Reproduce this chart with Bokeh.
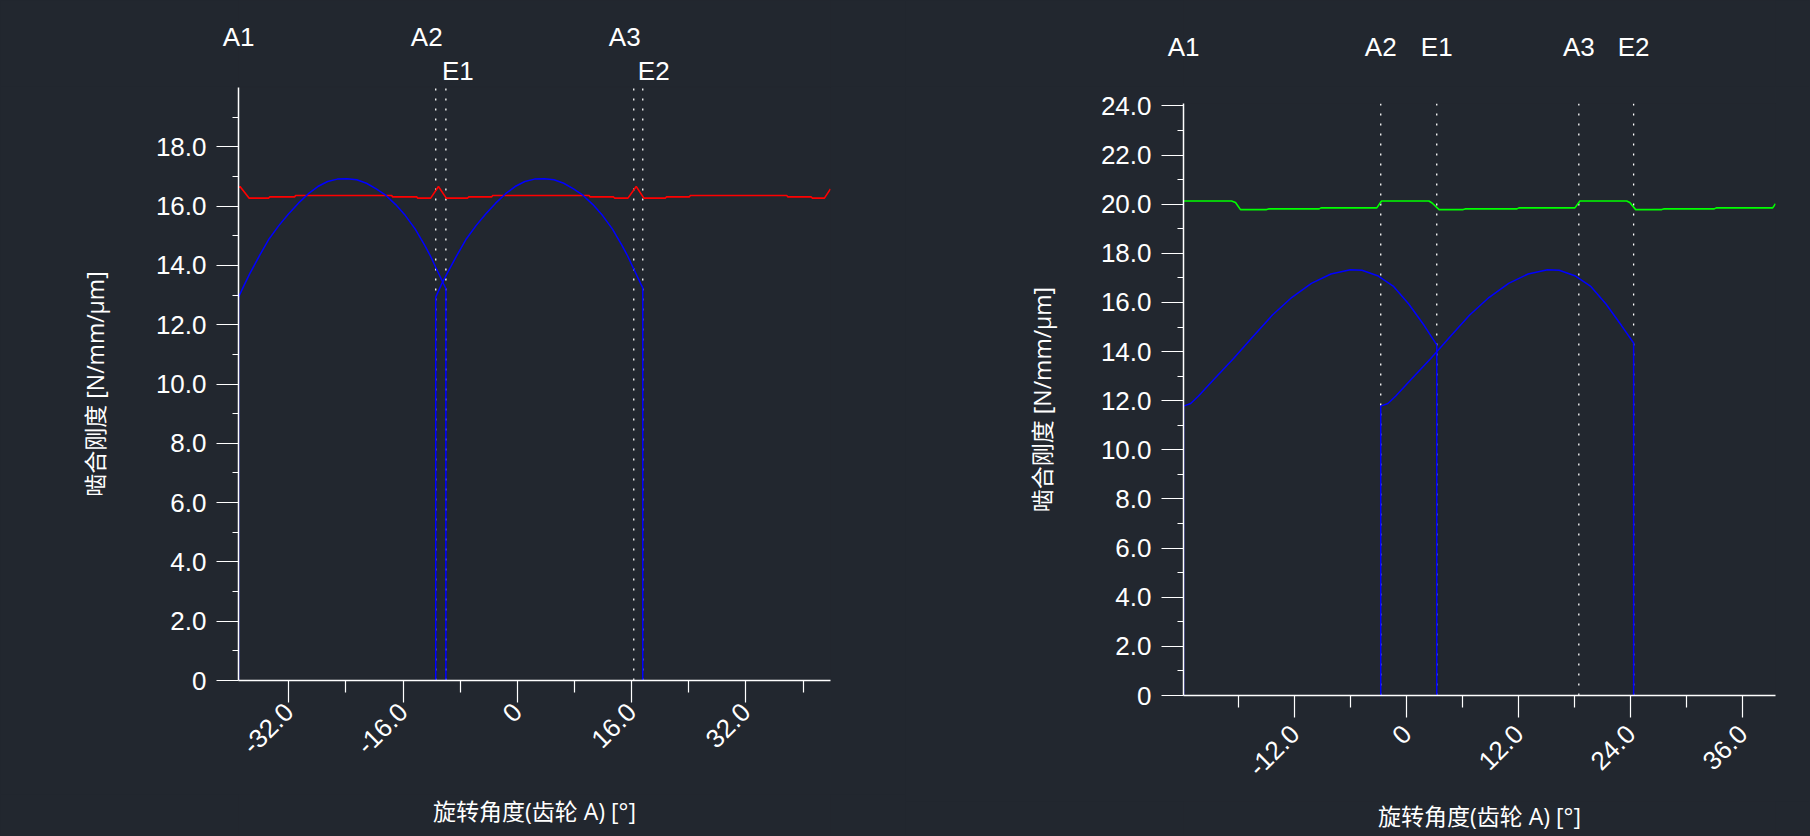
from bokeh.plotting import figure
from bokeh.layouts import row, column
from bokeh.models import Range1d, FixedTicker, CustomJS
from bokeh.core.properties import value
from bokeh.io import curdoc
from bokeh.embed import file_html
from bokeh.resources import INLINE

BG = "#22272f"
FG = "#ffffff"
TICK_FONT = "Liberation Sans"
LABEL_FONT = "Open Sans, Noto Sans CJK SC"

# ---------------- left chart data ----------------
L_A = [-39.05, -11.43, 16.30]
L_E = [-10.01, 17.56]
L_A_names = ["A1", "A2", "A3"]
L_E_names = ["E1", "E2"]

L_t1_x = [-39.05, -39.05, -38.29, -37.47, -36.11, -34.75, -33.38, -32.02, -30.66, -29.30, -27.94,
          -26.57, -25.21, -23.85, -22.49, -21.13, -19.76, -18.40, -17.04, -15.68, -14.32, -12.95,
          -12.14, -11.32, -10.34, -10.01, -10.01]
L_t1_y = [0, 12.93, 13.32, 13.72, 14.33, 14.90, 15.35, 15.74, 16.10, 16.41, 16.66, 16.83, 16.91,
          16.92, 16.89, 16.77, 16.58, 16.36, 16.05, 15.68, 15.23, 14.67, 14.30, 13.88, 13.38, 13.22, 0]
L_t2_x = [-11.43, -11.43, -10.67, -9.85, -8.49, -7.13, -5.76, -4.40, -3.04, -1.68, -0.32, 1.05,
          2.41, 3.77, 5.13, 6.49, 7.86, 9.22, 10.58, 11.94, 13.30, 14.67, 15.48, 16.30, 17.28,
          17.56, 17.56]
L_t2_y = [0, 12.93, 13.34, 13.72, 14.33, 14.90, 15.35, 15.74, 16.10, 16.41, 16.66, 16.83, 16.91,
          16.92, 16.89, 16.77, 16.58, 16.36, 16.05, 15.68, 15.23, 14.67, 14.30, 13.88, 13.38, 13.25, 0]
L_tot_x = [-39.05, -38.84, -37.58, -34.82, -34.68, -31.20, -31.05, -17.60, -17.45, -14.10, -13.95,
           -12.14, -11.05, -9.96, -6.96, -6.82, -3.59, -3.45, 10.04, 10.18, 13.47, 13.61, 15.49,
           16.64, 17.72, 20.73, 20.87, 24.09, 24.23, 37.72, 37.86, 41.15, 41.29, 43.00, 43.85]
L_tot_y = [16.62, 16.66, 16.27, 16.27, 16.31, 16.31, 16.36, 16.36, 16.31, 16.31, 16.27, 16.27,
           16.66, 16.27, 16.27, 16.31, 16.31, 16.36, 16.36, 16.31, 16.31, 16.27, 16.27, 16.66,
           16.27, 16.27, 16.31, 16.31, 16.36, 16.36, 16.31, 16.31, 16.27, 16.27, 16.58]
L_x_ticks = [-32, -16, 0, 16, 32]
L_x_labels = ["-32.0", "-16.0", "0", "16.0", "32.0"]
L_x_minor = [-24, -8, 8, 24, 40]
L_y_ticks = [0, 2, 4, 6, 8, 10, 12, 14, 16, 18]
L_y_labels = ["0", "2.0", "4.0", "6.0", "8.0", "10.0", "12.0", "14.0", "16.0", "18.0"]
L_y_minor = [1, 3, 5, 7, 9, 11, 13, 15, 17, 19]
L_x_end = 43.85
L_y_end = 20

# ---------------- right chart data ----------------
R_A = [-23.92, -2.79, 18.43]
R_E = [3.21, 24.30]
R_A_names = ["A1", "A2", "A3"]
R_E_names = ["E1", "E2"]

R_t1_x = [-23.92, -23.92, -23.15, -22.31, -20.65, -18.56, -16.47, -14.39, -12.30, -10.22, -8.13,
          -6.05, -4.80, -3.13, -1.46, 0.21, 1.87, 3.21, 3.21]
R_t1_y = [0, 11.78, 11.89, 12.19, 12.87, 13.72, 14.61, 15.49, 16.21, 16.78, 17.16, 17.33, 17.31,
          17.09, 16.67, 15.94, 15.06, 14.27, 0]
R_t2_x = [-2.79, -2.79, -2.02, -1.18, 0.48, 2.57, 4.66, 6.74, 8.83, 10.91, 13.00, 15.08, 16.33,
          18.00, 19.67, 21.34, 23.00, 24.30, 24.30]
R_t2_y = [0, 11.78, 11.89, 12.19, 12.87, 13.72, 14.61, 15.49, 16.21, 16.78, 17.16, 17.33, 17.31,
          17.09, 16.67, 15.94, 15.06, 14.35, 0]
R_tot_x = [-23.92, -18.77, -18.35, -17.81, -15.02, -14.81, -9.39, -9.18, -3.21, -2.71, 2.37, 2.71,
           3.46, 6.04, 6.25, 11.80, 12.01, 18.01, 18.55, 23.56, 23.89, 24.52, 27.31, 27.52, 32.94,
           33.15, 39.20, 39.50]
R_tot_y = [20.13, 20.13, 20.07, 19.78, 19.78, 19.81, 19.81, 19.85, 19.85, 20.13, 20.13, 20.05,
           19.78, 19.78, 19.81, 19.81, 19.85, 19.85, 20.13, 20.13, 20.07, 19.78, 19.78, 19.81,
           19.81, 19.85, 19.85, 20.02]
R_x_ticks = [-12, 0, 12, 24, 36]
R_x_labels = ["-12.0", "0", "12.0", "24.0", "36.0"]
R_x_minor = [-18, -6, 6, 18, 30]
R_y_ticks = [0, 2, 4, 6, 8, 10, 12, 14, 16, 18, 20, 22, 24]
R_y_labels = ["0", "2.0", "4.0", "6.0", "8.0", "10.0", "12.0", "14.0", "16.0", "18.0", "20.0",
              "22.0", "24.0"]
R_y_minor = [1, 3, 5, 7, 9, 11, 13, 15, 17, 19, 21, 23]
R_x_end = 39.5
R_y_end = 24.1

X_TITLE = "旋转角度(齿轮 A) [°]"
Y_TITLE = "啮合刚度 [N/mm/μm]"

FRAME_W = 592
HEAD_H = 86


def band(x_range, lb, rb, h, y_axis=None):
    f = figure(frame_width=FRAME_W, frame_height=h, x_range=x_range, y_range=Range1d(0, h),
               output_backend="svg", toolbar_location=None,
               x_axis_location=None, y_axis_location=y_axis,
               background_fill_color=BG, border_fill_color=BG, outline_line_color=None,
               min_border_left=lb, min_border_right=rb, min_border_top=0, min_border_bottom=0)
    f.grid.visible = False
    return f


def make_chart(x_end, y_end, lb, rb, tb, frame_h, bb, foot_h, foot_y, tick_standoff,
               xt, xl, xm, yt, yl, ym, A, An, E, En, curves, tot, tot_color,
               a_pos, e_pos, ylab_standoff):
    x_range = Range1d(A[0], x_end)
    # header band carrying the names of the A/E markers
    h = band(x_range, lb, rb, HEAD_H, y_axis="left")
    # the first name sits on the y axis itself: it is carried by the band's own y axis
    h.yaxis.ticker = FixedTicker(ticks=[a_pos[0][1]], minor_ticks=[])
    h.yaxis.major_label_overrides = {a_pos[0][1]: An[0]}
    h.yaxis.axis_line_color = None
    h.yaxis.major_tick_line_color = None
    h.yaxis.major_tick_out = 0
    h.yaxis.major_tick_in = 0
    h.yaxis.major_label_standoff = -16
    h.yaxis.major_label_text_color = FG
    h.yaxis.major_label_text_font = TICK_FONT
    h.yaxis.major_label_text_font_size = "26px"
    for xv, name, (dx, yc) in zip(A[1:] + E, An[1:] + En, a_pos[1:] + e_pos):
        h.text(x=[xv], y=[yc], text=[name], x_offset=dx, text_align="center",
               text_baseline="middle", text_color=FG, text_font=value(TICK_FONT),
               text_font_size="26px")

    p = figure(frame_width=FRAME_W, frame_height=frame_h,
               x_range=x_range, y_range=Range1d(0, y_end),
               output_backend="svg", toolbar_location=None,
               background_fill_color=BG, border_fill_color=BG, outline_line_color=None,
               min_border_left=lb, min_border_right=rb,
               min_border_top=tb, min_border_bottom=bb)
    p.grid.visible = False
    p.xaxis.ticker = FixedTicker(ticks=xt, minor_ticks=xm)
    p.yaxis.ticker = FixedTicker(ticks=yt, minor_ticks=ym)
    p.xaxis.major_label_overrides = dict(zip(xt, xl))
    p.yaxis.major_label_overrides = dict(zip(yt, yl))
    for ax in (p.xaxis, p.yaxis):
        ax.axis_line_color = FG
        ax.axis_line_width = 1.5
        ax.major_tick_line_color = FG
        ax.minor_tick_line_color = FG
        ax.major_tick_line_width = 1.2
        ax.minor_tick_line_width = 1.2
        ax.major_tick_in = 0
        ax.minor_tick_in = 0
        ax.major_tick_out = 22
        ax.major_label_text_color = FG
        ax.major_label_text_font = TICK_FONT
        ax.major_label_text_font_size = "26px"
    p.xaxis.minor_tick_out = 12
    p.yaxis.minor_tick_out = 6
    p.yaxis.major_label_standoff = 10
    p.xaxis.major_label_standoff = tick_standoff
    p.xaxis.major_label_orientation = 0.785398
    p.yaxis.axis_label = Y_TITLE
    p.yaxis.axis_label_text_color = FG
    p.yaxis.axis_label_text_font = LABEL_FONT
    p.yaxis.axis_label_text_font_size = "23px"
    p.yaxis.axis_label_text_font_style = "normal"
    p.yaxis.axis_label_standoff = ylab_standoff

    marks = A[1:] + E
    p.segment(x0=marks, y0=[0] * len(marks), x1=marks, y1=[y_end] * len(marks),
              line_color=FG, line_width=1.3, line_dash="2 8")
    p.line(tot[0], tot[1], line_color=tot_color, line_width=1.6)
    for cx, cy in curves:
        p.line(cx, cy, line_color="#0000ff", line_width=1.5)

    # footer band with the title of the x axis
    f = band(x_range, lb, rb, foot_h)
    f.text(x=[(A[0] + x_end) / 2], y=[foot_y], text=[X_TITLE], text_align="center",
           text_baseline="middle", text_color=FG, text_font=value(LABEL_FONT),
           text_font_size="23px")
    return column(h, p, f)


c1 = make_chart(L_x_end, L_y_end, 238, 75, 1, 593, 114, 41, 25, 5,
                L_x_ticks, L_x_labels, L_x_minor, L_y_ticks, L_y_labels, L_y_minor,
                L_A, L_A_names, L_E, L_E_names,
                [(L_t1_x, L_t1_y), (L_t2_x, L_t2_y)], (L_tot_x, L_tot_y), "#ff0000",
                [(0, 50), (-9, 50), (-9, 50)], [(12, 16), (11, 16)], 42)
c2 = make_chart(R_x_end, R_y_end, 278, 34, 17, 592, 106, 34, 20, 12,
                R_x_ticks, R_x_labels, R_x_minor, R_y_ticks, R_y_labels, R_y_minor,
                R_A, R_A_names, R_E, R_E_names,
                [(R_t1_x, R_t1_y), (R_t2_x, R_t2_y)], (R_tot_x, R_tot_y), "#00ff00",
                [(0, 39.3), (0, 39.3), (0, 39.3)], [(0, 39.3), (0, 39.3)], 40)

layout = row(c1, c2)
doc = curdoc()
doc.add_root(layout)
doc.js_on_event("document_ready", CustomJS(
    code="document.body.style.background='%s';" % BG))

open("out.html", "w").write(file_html(layout, INLINE))
